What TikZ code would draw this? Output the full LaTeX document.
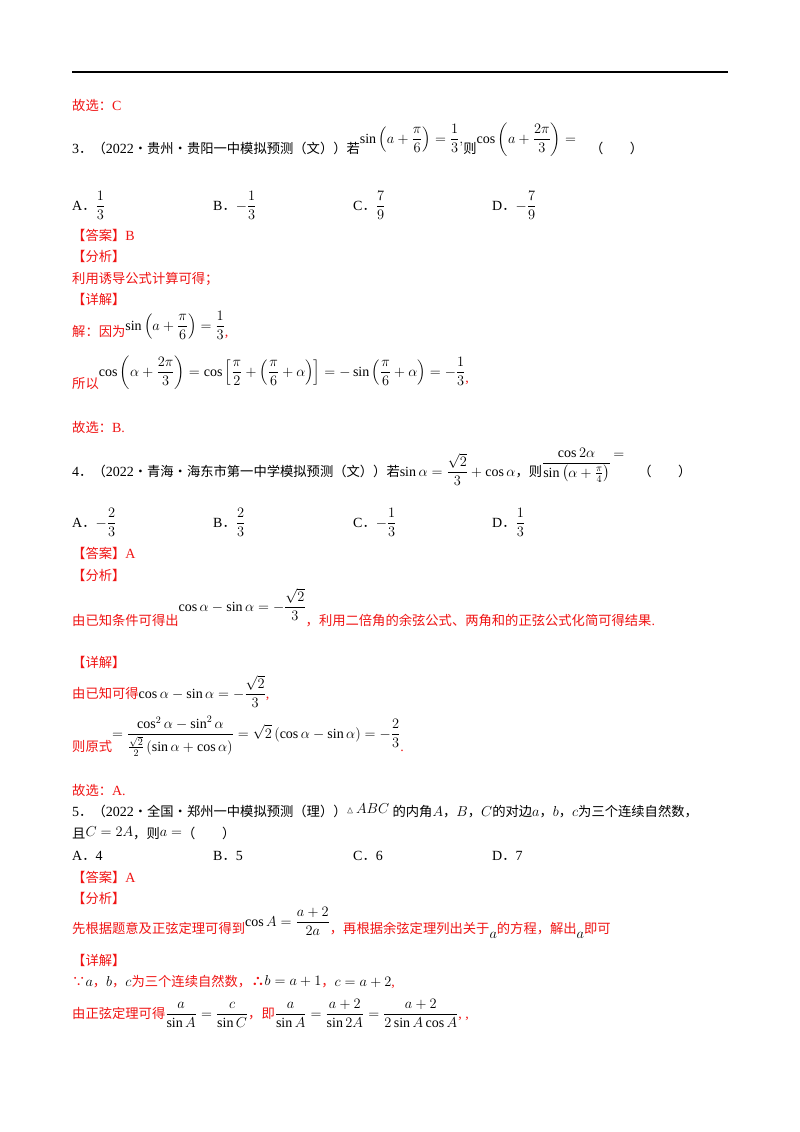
\documentclass[tikz,border=0pt]{standalone}
\usepackage{amsmath,amssymb}
\usepackage{fontspec}
\setmainfont{Liberation Serif}
\newfontfamily\cj[Scale=0.95]{Noto Sans CJK SC}
\definecolor{rd}{RGB}{240,20,20}
\newcommand{\fs}{\fontsize{14}{16}\selectfont}
\newcommand{\zh}[1]{{\cj #1}}
\newcommand{\rz}[1]{{\color{rd}\cj #1}}
\begin{document}
\begin{tikzpicture}[x=1pt,y=-1pt,
  t/.style={anchor=base west,inner sep=0pt,font=\fs},
  r/.style={t,text=rd}]
\useasboundingbox (0,0) rectangle (800,1132);
\fill[white] (0,0) rectangle (800,1132);
\draw[line width=1.5pt] (72,72) -- (728,72);

\node[r] (a1) at (72,110) {\zh{故选：}C};

\node[t] (q3) at (72,153) {3\zh{．（}2022\zh{·贵州·贵阳一中模拟预测（文））若}\raisebox{10pt}{$\displaystyle\sin\left(a+\frac{\pi}{6}\right)=\frac{1}{3},$}\zh{则}\raisebox{10pt}{$\displaystyle\cos\left(a+\frac{2\pi}{3}\right)=$}\quad\zh{（\qquad）}};

\node[t] (o3a) at (72,210) {A\zh{．}$\displaystyle\frac{1}{3}$};
\node[t] (o3b) at (213,210) {B\zh{．}$\displaystyle-\frac{1}{3}$};
\node[t] (o3c) at (353,210) {C\zh{．}$\displaystyle\frac{7}{9}$};
\node[t] (o3d) at (492,210) {D\zh{．}$\displaystyle-\frac{7}{9}$};

\node[r] (d1) at (72,240) {\zh{【答案】}B};
\node[r] (d2) at (72,261) {\zh{【分析】}};
\node[r] (d3) at (72,283) {\zh{利用诱导公式计算可得；}};
\node[r] (d4) at (72,304) {\zh{【详解】}};
\node[t] (d5) at (72,336) {\rz{解：因为}\raisebox{6pt}{$\displaystyle\sin\left(a+\frac{\pi}{6}\right)=\frac{1}{3}$}\textcolor{rd}{,}};
\node[t] (d6) at (72,388) {\rz{所以}\raisebox{12pt}{$\displaystyle\cos\left(\alpha+\frac{2\pi}{3}\right)=\cos\left[\frac{\pi}{2}+\left(\frac{\pi}{6}+\alpha\right)\right]=-\sin\left(\frac{\pi}{6}+\alpha\right)=-\frac{1}{3}$}\raisebox{6pt}{\textcolor{rd}{,}}};
\node[r] (d7) at (72,432) {\zh{故选：}B.};

\node[t] (q4) at (72,476) {4\zh{．（}2022\zh{·青海·海东市第一中学模拟预测（文））若}$\displaystyle\sin\alpha=\frac{\sqrt{2}}{3}+\cos\alpha$\zh{，则}\raisebox{9pt}{$\displaystyle\frac{\cos2\alpha}{\sin\left(\alpha+\frac{\pi}{4}\right)}$}\,\raisebox{18pt}{$=$}\quad\zh{（\qquad）}};

\node[t] (o4a) at (72,527) {A\zh{．}$\displaystyle-\frac{2}{3}$};
\node[t] (o4b) at (213,527) {B\zh{．}$\displaystyle\frac{2}{3}$};
\node[t] (o4c) at (353,527) {C\zh{．}$\displaystyle-\frac{1}{3}$};
\node[t] (o4d) at (492,527) {D\zh{．}$\displaystyle\frac{1}{3}$};

\node[r] (e1) at (72,558) {\zh{【答案】}A};
\node[r] (e2) at (72,580) {\zh{【分析】}};
\node[t] (e3) at (72,625) {\rz{由已知条件可得出}\raisebox{14pt}{$\displaystyle\cos\alpha-\sin\alpha=-\frac{\sqrt{2}}{3}$}\rz{，利用二倍角的余弦公式、两角和的正弦公式化简可得结果}\textcolor{rd}{.}};
\node[r] (e4) at (72,667) {\zh{【详解】}};
\node[t] (e5) at (72,698) {\rz{由已知可得}$\displaystyle\cos\alpha-\sin\alpha=-\frac{\sqrt{2}}{3}$\textcolor{rd}{,}};
\node[t] (e6) at (72,751) {\rz{则原式}\raisebox{13pt}{$\displaystyle=\frac{\cos^2\alpha-\sin^2\alpha}{\frac{\sqrt{2}}{2}\left(\sin\alpha+\cos\alpha\right)}=\sqrt{2}\left(\cos\alpha-\sin\alpha\right)=-\frac{2}{3}$}\textcolor{rd}{.}};
\node[r] (e7) at (72,795) {\zh{故选：}A.};

\node[t] (q5) at (72,816) {5\zh{．（}2022\zh{·全国·郑州一中模拟预测（理））}\raisebox{3pt}{$\scriptstyle\vartriangle\!\textstyle ABC$}\ \zh{的内角}$A$\zh{，}$B$\zh{，}$C$\zh{的对边}$a$\zh{，}$b$\zh{，}$c$\zh{为三个连续自然数，}};
\node[t] (q5b) at (72,838) {\zh{且}\raisebox{2pt}{$C=2A$}\zh{，则}\raisebox{2pt}{$a=$}\zh{（\qquad）}};
\node[t] (o5a) at (72,860) {A\zh{．}4};
\node[t] (o5b) at (213,860) {B\zh{．}5};
\node[t] (o5c) at (353,860) {C\zh{．}6};
\node[t] (o5d) at (492,860) {D\zh{．}7};

\node[r] (f1) at (72,882) {\zh{【答案】}A};
\node[r] (f2) at (72,903) {\zh{【分析】}};
\node[t] (f3) at (72,933) {\rz{先根据题意及正弦定理可得到}\raisebox{7pt}{$\displaystyle\cos A=\frac{a+2}{2a}$}\rz{，再根据余弦定理列出关于}\raisebox{-5pt}{$a$}\rz{的方程，解出}\raisebox{-5pt}{$a$}\rz{即可}};
\node[r] (f4) at (72,965) {\zh{【详解】}};
\node[t] (f5) at (72,986) {\rz{∵}$a$\rz{，}$b$\rz{，}$c$\rz{为三个连续自然数，}\textcolor{rd}{\bfseries\cj ∴}\raisebox{1pt}{$b=a+1$}\rz{，}$c=a+2$\textcolor{rd}{,}};
\node[t] (f6) at (72,1018) {\rz{由正弦定理可得}$\displaystyle\frac{a}{\sin A}=\frac{c}{\sin C}$\rz{，即}$\displaystyle\frac{a}{\sin A}=\frac{a+2}{\sin 2A}=\frac{a+2}{2\sin A\cos A}$\textcolor{rd}{,\ ,}};
\end{tikzpicture}
\end{document}
